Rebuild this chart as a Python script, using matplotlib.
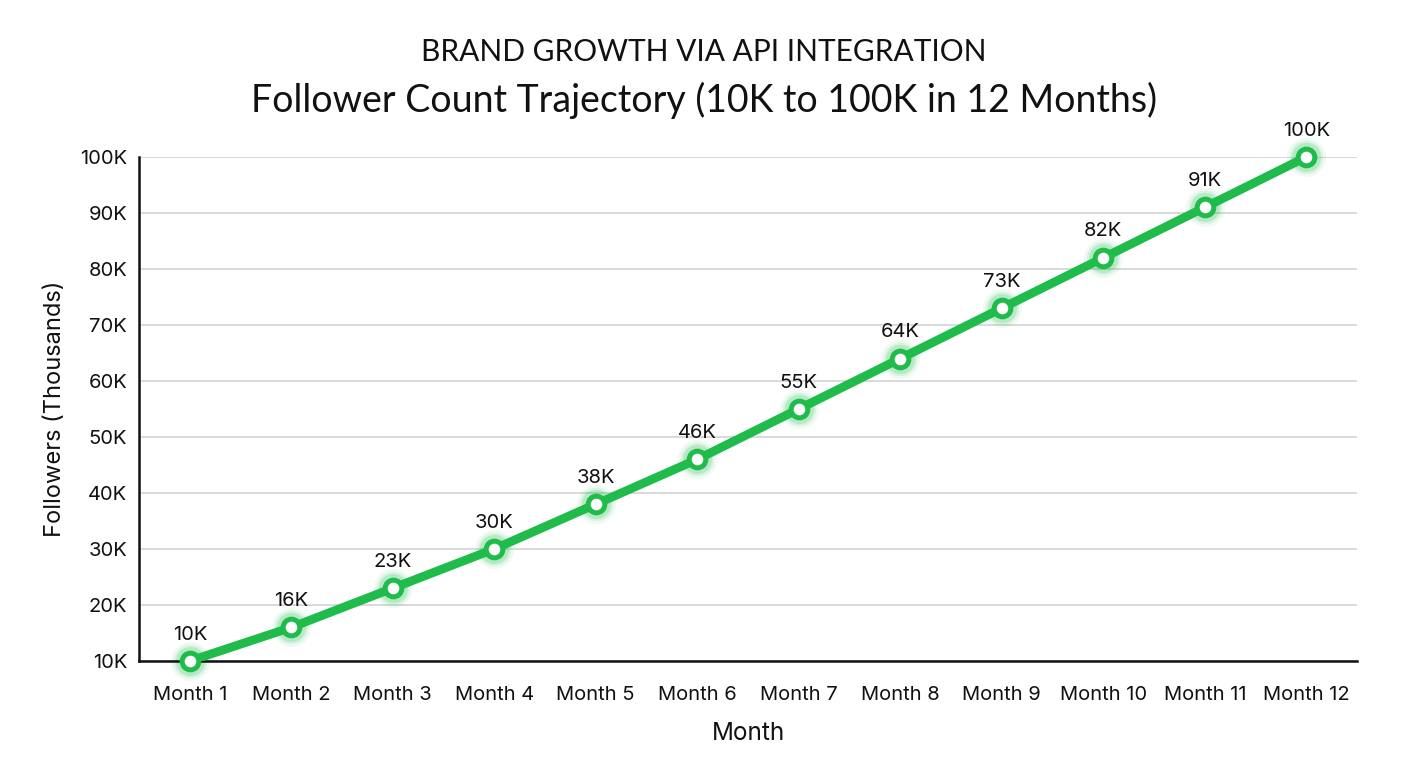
import matplotlib
matplotlib.use("Agg")
import matplotlib.pyplot as plt

months = ["Month 1", "Month 2", "Month 3", "Month 4", "Month 5", "Month 6",
          "Month 7", "Month 8", "Month 9", "Month 10", "Month 11", "Month 12"]
followers = [10, 16, 23, 30, 38, 46, 55, 64, 73, 82, 91, 100]
point_labels = ["10K", "16K", "23K", "30K", "38K", "46K",
                "55K", "64K", "73K", "82K", "91K", "100K"]
y_ticks = [10, 20, 30, 40, 50, 60, 70, 80, 90, 100]
y_tick_labels = ["10K", "20K", "30K", "40K", "50K", "60K", "70K", "80K", "90K", "100K"]

GREEN = "#1fbb4b"

plt.rcParams["font.family"] = ["Inter", "DejaVu Sans"]

fig = plt.figure(figsize=(14.08, 7.68), dpi=100)
ax = fig.add_axes([139 / 1408, 1 - 661 / 768, (1357 - 139) / 1408, (661 - 157) / 768])

x = list(range(len(months)))

for y in y_ticks:
    ax.axhline(y, color="#cfcfcf", lw=1.1, zorder=0)

ax.plot(x, followers, color=GREEN, lw=6.3, solid_capstyle="round", zorder=3)

# soft glow behind the markers
for size, alpha in [(28, 0.07), (24, 0.11), (21, 0.17)]:
    ax.plot(x, followers, ls="none", marker="o", ms=size, color=GREEN,
            alpha=alpha, mec="none", zorder=2, clip_on=False)
ax.plot(x, followers, ls="none", marker="o", ms=12, mfc="white", mec=GREEN,
        mew=3.6, zorder=4, clip_on=False)

for xi, yi, lab in zip(x, followers, point_labels):
    ax.annotate(lab, (xi, yi), xytext=(0, 12.5), textcoords="offset points",
                ha="center", va="bottom", fontsize=14.5, color="#111111")

ax.set_xlim(-0.5, len(months) - 0.5)
ax.set_ylim(10, 100)
ax.set_xticks(x)
ax.set_xticklabels(months)
ax.set_yticks(y_ticks)
ax.set_yticklabels(y_tick_labels)
ax.tick_params(axis="both", labelsize=14.5, length=0, colors="#111111")
ax.tick_params(axis="x", pad=18)
ax.tick_params(axis="y", pad=8.5)

for side in ["top", "right"]:
    ax.spines[side].set_visible(False)
for side in ["left", "bottom"]:
    ax.spines[side].set_linewidth(1.8)
    ax.spines[side].set_color("#111111")

ax.set_xlabel("Month", fontsize=17.5, labelpad=13, color="#111111")
ax.set_ylabel("Followers (Thousands)", fontsize=17, labelpad=10, color="#111111")

fig.text(0.5, 1 - 52 / 768, "BRAND GROWTH VIA API INTEGRATION", ha="center", va="center",
         fontsize=21.5, family=["Lato", "DejaVu Sans"], color="#111111")
fig.text(0.5, 1 - 100 / 768, "Follower Count Trajectory (10K to 100K in 12 Months)",
         ha="center", va="center", fontsize=27, family=["Lato", "DejaVu Sans"], color="#111111")

fig.savefig("out.png", dpi=100, facecolor="white")
